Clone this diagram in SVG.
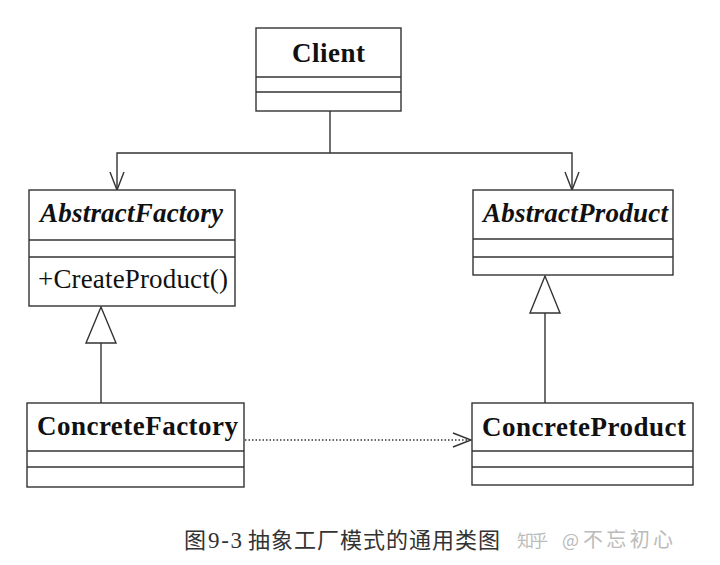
<svg xmlns="http://www.w3.org/2000/svg" width="720" height="565" viewBox="0 0 720 565">
<style>
.box{fill:#fff;stroke:#333;stroke-width:1.4}
.div{stroke:#333;stroke-width:1.4}
.ln{fill:none;stroke:#333;stroke-width:1.4}
</style>
<rect width="720" height="565" fill="#fff"/>
<g id="connectors">
  <polyline class="ln" points="330,111 330,153"/>
  <polyline class="ln" points="117,190 117,153 572,153 572,190"/>
  <polyline class="ln" points="110,172 117,190 124,172"/>
  <polyline class="ln" points="565,172 572,190 579,172"/>
  <line class="ln" x1="101" y1="343" x2="101" y2="403"/>
  <polygon class="ln" points="101,307 86,343 116,343" style="fill:#fff"/>
  <line class="ln" x1="545" y1="313" x2="545" y2="403"/>
  <polygon class="ln" points="545,276 530,313 560,313" style="fill:#fff"/>
  <line class="ln" x1="245" y1="440" x2="471" y2="440" stroke-dasharray="1.5,2"/>
  <polyline class="ln" points="453,433 471,440 453,447"/>
</g>
<g font-family="'Liberation Serif', 'Times New Roman', serif" font-size="27" fill="#111">
<g id="client">
  <rect class="box" x="256" y="28" width="145" height="83"/>
  <line class="div" x1="256" y1="77" x2="401" y2="77"/>
  <line class="div" x1="256" y1="92" x2="401" y2="92"/>
  <text font-weight="bold" x="292" y="62" textLength="73" lengthAdjust="spacing">Client</text>
</g>
<g id="abstractFactory">
  <rect class="box" x="29" y="190" width="206" height="116"/>
  <line class="div" x1="29" y1="240" x2="235" y2="240"/>
  <line class="div" x1="29" y1="257" x2="235" y2="257"/>
  <text font-weight="bold" font-style="italic" x="40" y="222" textLength="183" lengthAdjust="spacing">AbstractFactory</text>
  <text x="38" y="288" textLength="190" lengthAdjust="spacing">+CreateProduct()</text>
</g>
<g id="abstractProduct">
  <rect class="box" x="473" y="190" width="200" height="85"/>
  <line class="div" x1="473" y1="239" x2="673" y2="239"/>
  <line class="div" x1="473" y1="257" x2="673" y2="257"/>
  <text font-weight="bold" font-style="italic" x="483" y="222" textLength="185" lengthAdjust="spacing">AbstractProduct</text>
</g>
<g id="concreteFactory">
  <rect class="box" x="27" y="403" width="217" height="84"/>
  <line class="div" x1="27" y1="451" x2="244" y2="451"/>
  <line class="div" x1="27" y1="467" x2="244" y2="467"/>
  <text font-weight="bold" x="37" y="435" textLength="201" lengthAdjust="spacing">ConcreteFactory</text>
</g>
<g id="concreteProduct">
  <rect class="box" x="472" y="403" width="221" height="82"/>
  <line class="div" x1="472" y1="451" x2="693" y2="451"/>
  <line class="div" x1="472" y1="467" x2="693" y2="467"/>
  <text font-weight="bold" x="482" y="436" textLength="204" lengthAdjust="spacing">ConcreteProduct</text>
</g>
</g>
<text font-size="22" fill="#333" y="548"><tspan x="184" font-family="'Noto Sans CJK SC', sans-serif">图</tspan><tspan x="208" font-family="'Liberation Serif', serif" font-size="23" textLength="34" lengthAdjust="spacing">9-3</tspan><tspan x="248" font-family="'Noto Sans CJK SC', sans-serif" textLength="252" lengthAdjust="spacing">抽象工厂模式的通用类图</tspan></text>
<text fill="#bbb" y="547" font-family="'Noto Sans CJK SC', 'Noto Sans', sans-serif"><tspan x="517" font-size="17" textLength="31" lengthAdjust="spacing">知乎</tspan><tspan x="562" font-size="18">@</tspan><tspan x="583" font-size="20" textLength="90" lengthAdjust="spacing">不忘初心</tspan></text>
</svg>
